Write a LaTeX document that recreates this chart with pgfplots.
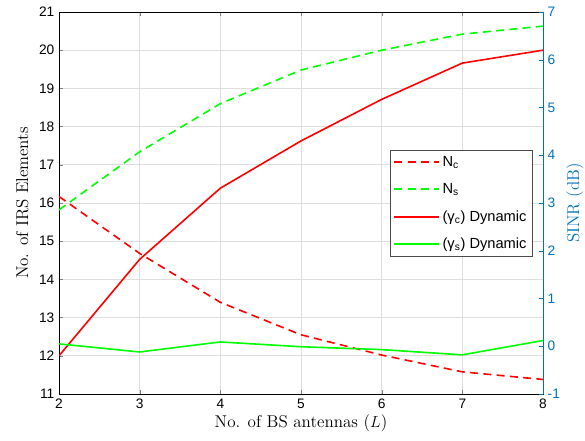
\documentclass[border=0pt]{standalone}
\usepackage{pgfplots}
\pgfplotsset{compat=1.18}
\usepackage{fontspec}
\newfontfamily\arial{Liberation Sans}
\definecolor{mblue}{rgb}{0,0.447,0.741}
\definecolor{gridc}{gray}{0.87}

\pgfplotsset{
  common/.style={
    scale only axis,
    width=363pt, height=286.5pt,
    at={(0,0)}, anchor=south west,
    xmin=2, xmax=8,
    xtick={2,...,8},
    tick align=inside,
    major tick length=3pt,
    ticklabel style={font=\arial\fontsize{10.3}{12}\selectfont},
    /pgf/number format/assume math mode=true,
    label style={font=\fontsize{12.8}{15}\selectfont},
  }
}

\begin{document}
\begin{tikzpicture}
\useasboundingbox (-44.25pt,-34.5pt) rectangle (394.5pt,295.5pt);
\begin{axis}[
  common,
  ymin=11, ymax=21,
  ytick={11,...,21},
  ytick pos=left,
  grid=major,
  grid style={gridc, line width=0.6pt},
  axis line style={black, line width=0.6pt},
  xlabel={No. of BS antennas ($L$)},
  ylabel={No. of IRS Elements},
  xlabel style={yshift=2pt},
  ylabel style={yshift=1pt},
]
\addplot[red, line width=1.2pt, dash pattern=on 6pt off 4pt] coordinates {
  (2,16.17) (3,14.68) (4,13.40) (5,12.55) (6,12.02) (7,11.58) (8,11.38)};
\addplot[green, line width=1.2pt, dash pattern=on 6pt off 4pt] coordinates {
  (2,15.82) (3,17.34) (4,18.60) (5,19.48) (6,20.00) (7,20.42) (8,20.63)};
\end{axis}
\begin{axis}[
  common,
  ymin=-1, ymax=7,
  ytick={-1,...,7},
  axis x line=none,
  axis y line*=right,
  y axis line style={mblue, line width=0.6pt, -},
  ytick style={mblue},
  yticklabel style={mblue},
  ylabel={SINR (dB)},
  ylabel style={mblue, yshift=2pt},
  legend style={at={(0.979,0.359)}, anchor=south east,
    draw=black!70, fill=white, font=\arial\fontsize{11}{13}\selectfont,
    row sep=7.2pt, inner sep=2.5pt},
  legend cell align=left,
  legend image code/.code={\draw[#1, line width=1.5pt] (0cm,0cm) -- (1.17cm,0cm);},
]
\addlegendimage{red, dash pattern=on 6pt off 4pt}
\addlegendentry{N\textsubscript{c}}
\addlegendimage{green, dash pattern=on 6pt off 4pt}
\addlegendentry{N\textsubscript{s}}
\addplot[red, line width=1.2pt] coordinates {
  (2,-0.20) (3,1.82) (4,3.31) (5,4.30) (6,5.17) (7,5.93) (8,6.20)};
\addlegendentry{(γ\textsubscript{c}) Dynamic}
\addplot[green, line width=1.2pt] coordinates {
  (2,0.05) (3,-0.12) (4,0.09) (5,-0.01) (6,-0.07) (7,-0.18) (8,0.12)};
\addlegendentry{(γ\textsubscript{s}) Dynamic}
\end{axis}
\end{tikzpicture}
\end{document}
